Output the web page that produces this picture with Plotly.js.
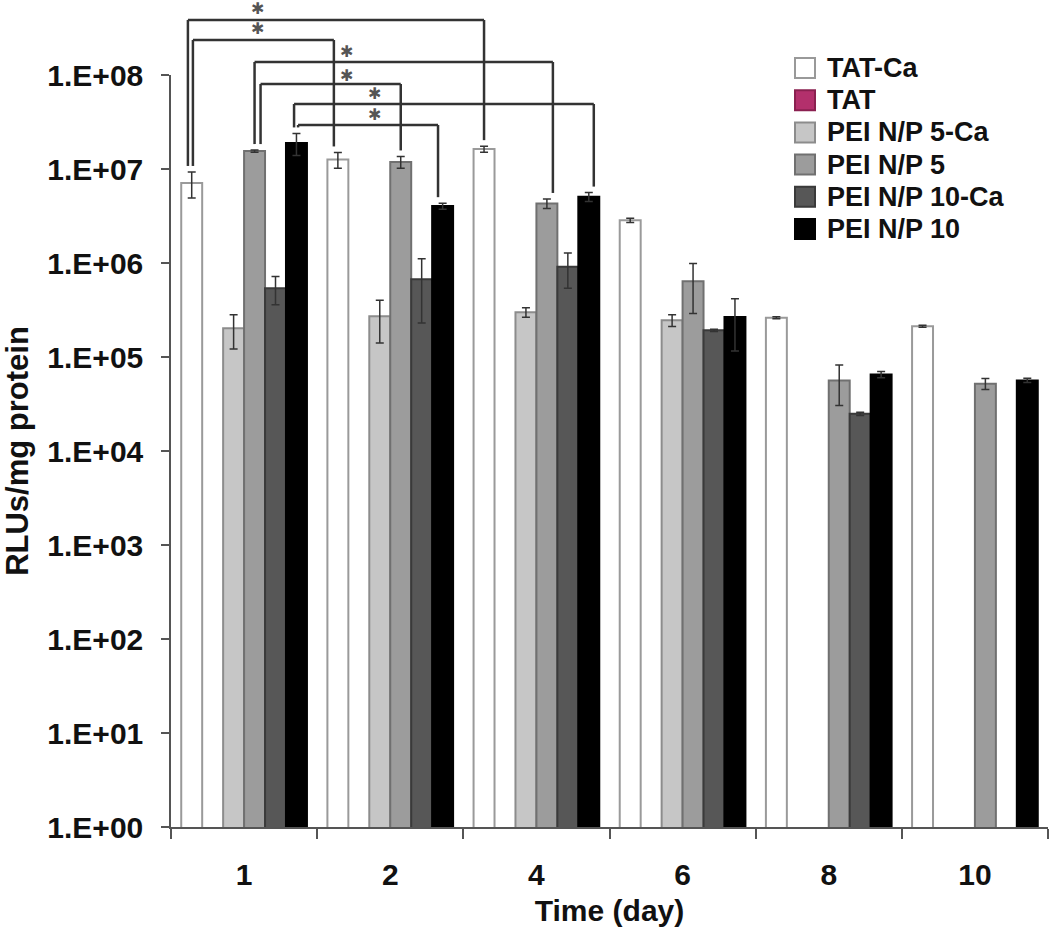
<!DOCTYPE html>
<html><head><meta charset="utf-8">
<script src="https://cdn.plot.ly/plotly-3.0.1.min.js"></script>
<style>body{margin:0;background:#fff}#chart{width:1050px;height:934px}</style>
</head><body><div id="chart"></div>
<script>
// ---- data ----
const days = ['1', '2', '4', '6', '8', '10'];
const seriesNames = ['TAT-Ca', 'TAT', 'PEI N/P 5-Ca', 'PEI N/P 5', 'PEI N/P 10-Ca', 'PEI N/P 10'];
const tatCa      = [7.1e6, 1.26e7, 1.63e7, 2.85e6, 2.62e5, 2.12e5];
const tatCaErr   = [2.2e6, 2.4e6, 1.2e6, 1.5e5, 6e3, 5e3];
const tat        = [null, null, null, null, null, null];
const tatErr     = [null, null, null, null, null, null];
const pei5Ca     = [2.02e5, 2.71e5, 3.0e5, 2.46e5, null, null];
const pei5CaErr  = [8e4, 1.3e5, 3.5e4, 3.5e4, null, null];
const pei5       = [1.55e7, 1.19e7, 4.3e6, 6.4e5, 5.64e4, 5.2e4];
const pei5Err    = [4e5, 1.7e6, 5e5, 3.5e5, 2.6e4, 7e3];
const pei10Ca    = [5.4e5, 6.7e5, 9.1e5, 1.92e5, 2.49e4, null];
const pei10CaErr = [1.8e5, 4.4e5, 3.7e5, 5e3, 1e3, null];
const pei10      = [1.89e7, 4.03e6, 5.06e6, 2.66e5, 6.5e4, 5.64e4];
const pei10Err   = [5e6, 3e5, 5.5e5, 1.5e5, 5e3, 3e3];
const yTickVals = [1, 1e1, 1e2, 1e3, 1e4, 1e5, 1e6, 1e7, 1e8];
const yTickText = ['1.E+00', '1.E+01', '1.E+02', '1.E+03', '1.E+04', '1.E+05', '1.E+06', '1.E+07', '1.E+08'];
// significance brackets: [fromDay, fromSeries, toDay, toSeries]
const brackets = [[0, 0, 2, 0], [0, 0, 1, 0], [0, 3, 2, 3], [0, 3, 1, 3], [0, 5, 2, 5], [0, 5, 1, 5]];
const sigLabel = '✱';

// ---- styles ----
const values = [tatCa, tat, pei5Ca, pei5, pei10Ca, pei10];
const errs = [tatCaErr, tatErr, pei5CaErr, pei5Err, pei10CaErr, pei10Err];
const fills = ['#ffffff', '#b3306c', '#c6c6c6', '#9c9c9c', '#575757', '#000000'];
const lines = ['#9a9a9a', '#8a2050', '#8c8c8c', '#707070', '#3a3a3a', '#000000'];
const FONT = 'Liberation Sans, Arial, sans-serif';

const traces = seriesNames.map((n, i) => ({
  type: 'bar', name: n, x: days, y: values[i],
  marker: {color: fills[i], line: {color: lines[i], width: 2}},
  error_y: {type: 'data', array: errs[i], visible: true, color: '#333', thickness: 1.5, width: 4},
  hoverinfo: 'x+y+name', showlegend: false
}));

// geometry helpers for decoration placement
const bargap = 0.14;
const nS = seriesNames.length;
const bw = (1 - bargap) / nS;
const plotL = 171, plotW = 877, plotT = 75, plotH = 752;
const pxPerCat = plotW / days.length;
function cx(day, s, shiftPx) { return day - (1 - bargap) / 2 + (s + 0.5) * bw + shiftPx / pxPerCat; }
function py(v) { return Math.log10(v) / 8; }
function pxX(p) { return (p - plotL) / plotW; }
function pxY(p) { return (plotT + plotH - p) / plotH; }

const levels = [20, 40, 62, 84, 104, 125].map(pxY);
const legShift = [[-3.8, 0], [1.2, -4], [0, 6], [6, 0], [-2.4, 5], [1.6, -4.6]];
const starPos = [[0.095, 9], [0.095, 29], [0.704, 52], [0.704, 75], [0.889, 94], [0.889, 114]];
const gap = 6 / plotH;
const shapes = [];
const annotations = [];
const lineStyle = {color: '#333', width: 2.5};
brackets.forEach((b, k) => {
  const [d0, s0, d1, s1] = b;
  const x0 = cx(d0, s0, legShift[k][0]);
  const x1 = cx(d1, s1, legShift[k][1]);
  const yb0 = py(values[s0][d0] + (errs[s0][d0] || 0)) + gap;
  const yb1 = py(values[s1][d1] + (errs[s1][d1] || 0)) + gap;
  const L = levels[k];
  shapes.push({type: 'line', xref: 'x', yref: 'paper', x0: x0, x1: x0, y0: yb0, y1: L, line: lineStyle});
  shapes.push({type: 'line', xref: 'x', yref: 'paper', x0: x0, x1: x1, y0: L, y1: L, line: lineStyle});
  shapes.push({type: 'line', xref: 'x', yref: 'paper', x0: x1, x1: x1, y0: L, y1: yb1, line: lineStyle});
  annotations.push({xref: 'x', yref: 'paper', x: starPos[k][0], y: pxY(starPos[k][1]), text: sigLabel,
    showarrow: false, borderpad: 0, font: {family: 'DejaVu Sans', size: 16, color: '#555'},
    xanchor: 'center', yanchor: 'middle'});
});

// legend (drawn as swatches + text)
const legTop = 68, legStep = 32.2, swL = 795, swSize = 20, legTextX = 826;
seriesNames.forEach((n, i) => {
  const yc = legTop + i * legStep;
  shapes.push({type: 'rect', xref: 'paper', yref: 'paper',
    x0: pxX(swL), x1: pxX(swL + swSize), y0: pxY(yc - swSize / 2), y1: pxY(yc + swSize / 2),
    fillcolor: fills[i], line: {color: i === 0 ? '#999' : lines[i], width: 2}});
  annotations.push({xref: 'paper', yref: 'paper', x: pxX(legTextX), y: pxY(yc), text: n,
    showarrow: false, xanchor: 'left', yanchor: 'middle', borderpad: 0,
    font: {family: FONT, size: 27, color: '#111', weight: 700}});
});

const layout = {
  width: 1050, height: 934,
  margin: {l: plotL, r: 1050 - plotL - plotW, t: plotT, b: 934 - plotT - plotH},
  paper_bgcolor: '#fff', plot_bgcolor: '#fff',
  barmode: 'group', bargap: bargap, bargroupgap: 0,
  font: {family: FONT, size: 28, color: '#111', weight: 700},
  showlegend: false,
  xaxis: {type: 'category', categoryorder: 'array', categoryarray: days,
    tickson: 'boundaries', ticks: 'outside', ticklen: 10, tickwidth: 1.5, tickcolor: '#555',
    showline: true, linecolor: '#555', linewidth: 1.5, showgrid: false, zeroline: false,
    tickfont: {family: FONT, size: 30, color: '#111', weight: 700}, ticklabelstandoff: 20,
    title: {text: 'Time (day)', font: {family: FONT, size: 30, color: '#111', weight: 700}, standoff: 10},
    automargin: false},
  yaxis: {type: 'log', range: [0, 8], tickvals: yTickVals, ticktext: yTickText,
    ticks: 'outside', ticklen: 8, tickwidth: 1.5, tickcolor: '#555',
    showline: true, linecolor: '#555', linewidth: 1.5, showgrid: false, zeroline: false,
    tickfont: {family: FONT, size: 30, color: '#111', weight: 700}, ticklabelstandoff: 12,
    title: {text: 'RLUs/mg protein', font: {family: FONT, size: 31, color: '#111', weight: 700}, standoff: 27},
    automargin: false},
  shapes: shapes,
  annotations: annotations
};

Plotly.newPlot('chart', traces, layout, {displayModeBar: false, responsive: false});
</script>
</body></html>
